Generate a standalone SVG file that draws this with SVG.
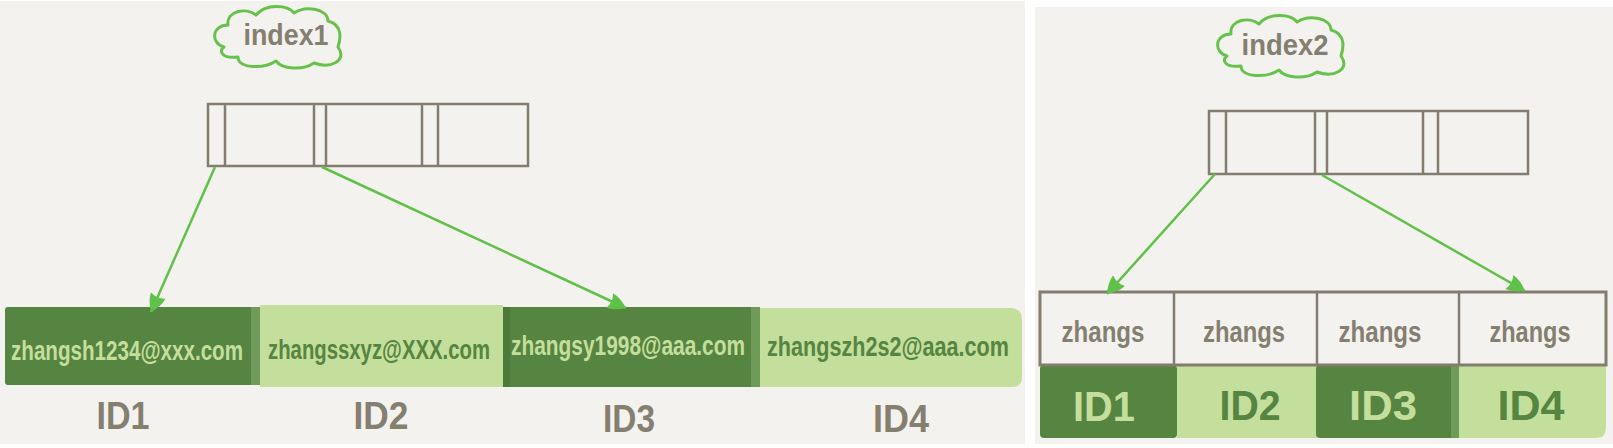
<svg xmlns="http://www.w3.org/2000/svg" width="1613" height="448" viewBox="0 0 1613 448">
<style>
.bg{fill:#f4f2ee}
.box{fill:none;stroke:#847d6f;stroke-width:2.5}
.cloud{fill:none;stroke:#66c24a;stroke-width:3;stroke-linejoin:round}
.conn{stroke:#5fc148;stroke-width:2.5;fill:none}
.dark{fill:#568441}
.light{fill:#c4df9b}
.t{font-family:"Liberation Sans",Arial,sans-serif;font-weight:700}
.gray{fill:#857f70}
.tl{fill:#c4df9b}
.td{fill:#568441}
</style>
<defs>
<path id="cloudShape" d="M 14 44 C 0 40, 2 22, 18 22 C 16 8, 36 4, 46 12 C 56 0, 78 2, 84 10 C 96 2, 118 6, 118 18 C 134 22, 130 38, 128 44 C 138 58, 120 66, 104 60 C 92 68, 72 66, 66 58 C 54 66, 28 66, 28 54 C 12 56, 8 48, 14 44 Z"/>
<marker id="ah" markerUnits="userSpaceOnUse" markerWidth="22" markerHeight="20" refX="18" refY="9" orient="auto">
<path d="M 0 1 Q 9 2 18 9 Q 9 16 0 17 Q 4 9 0 1 Z" fill="#5fc148"/>
</marker>
</defs>
<rect width="1613" height="448" fill="#ffffff"/>
<rect class="bg" x="0" y="1" width="1025" height="443"/>
<rect class="bg" x="1035" y="7" width="578" height="437"/>

<g id="index1">
<use href="#cloudShape" class="cloud" transform="translate(210,3)"/>
<text class="t gray" x="286" y="45" font-size="30" text-anchor="middle" textLength="85" lengthAdjust="spacingAndGlyphs">index1</text>
</g>
<g id="root1">
<rect class="box" x="208" y="104" width="320" height="62"/>
<line class="box" x1="225" y1="104" x2="225" y2="166"/>
<line class="box" x1="314" y1="104" x2="314" y2="166"/>
<line class="box" x1="326" y1="104" x2="326" y2="166"/>
<line class="box" x1="422" y1="104" x2="422" y2="166"/>
<line class="box" x1="438" y1="104" x2="438" y2="166"/>
</g>
<g id="leaf1">
<rect class="dark" x="5" y="307" width="255" height="78" rx="3"/>
<rect x="251" y="307" width="9" height="78" fill="#6f9a5a"/>
<text class="t tl" transform="translate(127,360) scale(1,1.35)" x="0" y="0" font-size="20" text-anchor="middle" textLength="232" lengthAdjust="spacingAndGlyphs">zhangsh1234@xxx.com</text>
<text class="t gray" x="123" y="429" font-size="38" text-anchor="middle" textLength="53" lengthAdjust="spacingAndGlyphs">ID1</text>
</g>
<g id="leaf2">
<rect class="light" x="260" y="305" width="243" height="82"/>
<text class="t td" transform="translate(379,359) scale(1,1.35)" x="0" y="0" font-size="20" text-anchor="middle" textLength="222" lengthAdjust="spacingAndGlyphs">zhangssxyz@XXX.com</text>
<text class="t gray" x="381" y="429" font-size="38" text-anchor="middle" textLength="55" lengthAdjust="spacingAndGlyphs">ID2</text>
</g>
<g id="leaf3">
<rect class="dark" x="503" y="307" width="257" height="80" rx="3"/>
<rect x="503" y="307" width="7" height="80" fill="#4c7a38"/>
<rect x="751" y="307" width="9" height="80" fill="#6f9a5a"/>
<text class="t tl" transform="translate(628,355) scale(1,1.35)" x="0" y="0" font-size="20" text-anchor="middle" textLength="234" lengthAdjust="spacingAndGlyphs">zhangsy1998@aaa.com</text>
<text class="t gray" x="629" y="432" font-size="38" text-anchor="middle" textLength="52" lengthAdjust="spacingAndGlyphs">ID3</text>
</g>
<g id="leaf4">
<path class="light" d="M 760 308 L 1010 308 Q 1022 308 1022 320 L 1022 377 Q 1022 387 1012 387 L 760 387 Z"/>
<text class="t td" transform="translate(888,356) scale(1,1.35)" x="0" y="0" font-size="20" text-anchor="middle" textLength="242" lengthAdjust="spacingAndGlyphs">zhangszh2s2@aaa.com</text>
<text class="t gray" x="901" y="432" font-size="38" text-anchor="middle" textLength="56" lengthAdjust="spacingAndGlyphs">ID4</text>
</g>

<g id="index2">
<use href="#cloudShape" class="cloud" transform="translate(1213,12)"/>
<text class="t gray" x="1285" y="55" font-size="30" text-anchor="middle" textLength="87" lengthAdjust="spacingAndGlyphs">index2</text>
</g>
<g id="root2">
<rect class="box" x="1209" y="111" width="319" height="63"/>
<line class="box" x1="1226" y1="111" x2="1226" y2="174"/>
<line class="box" x1="1315" y1="111" x2="1315" y2="174"/>
<line class="box" x1="1327" y1="111" x2="1327" y2="174"/>
<line class="box" x1="1423" y1="111" x2="1423" y2="174"/>
<line class="box" x1="1438" y1="111" x2="1438" y2="174"/>
</g>
<g id="row2">
<rect class="dark" x="1040" y="365" width="137" height="73" rx="4"/>
<rect class="light" x="1177" y="365" width="140" height="73"/>
<rect class="dark" x="1316" y="365" width="143" height="73" rx="4"/>
<rect x="1451" y="365" width="8" height="73" fill="#6f9a5a"/>
<path class="light" d="M 1459 365 L 1606 365 L 1606 428 Q 1606 438 1596 438 L 1459 438 Z"/>
<rect x="1040" y="292" width="566" height="73" fill="#f4f2ee" stroke="#847d6f" stroke-width="3"/>
<line class="box" x1="1174" y1="292" x2="1174" y2="365" stroke-width="3"/>
<line class="box" x1="1317" y1="292" x2="1317" y2="365" stroke-width="3"/>
<line class="box" x1="1459" y1="292" x2="1459" y2="365" stroke-width="3"/>
</g>
<g id="entry1">
<text class="t gray" x="1103" y="342" font-size="30" text-anchor="middle" textLength="83" lengthAdjust="spacingAndGlyphs">zhangs</text>
<text class="t tl" x="1104" y="421" font-size="42" text-anchor="middle" textLength="62" lengthAdjust="spacingAndGlyphs">ID1</text>
</g>
<g id="entry2">
<text class="t gray" x="1244" y="342" font-size="30" text-anchor="middle" textLength="82" lengthAdjust="spacingAndGlyphs">zhangs</text>
<text class="t td" x="1250" y="420" font-size="42" text-anchor="middle" textLength="61" lengthAdjust="spacingAndGlyphs">ID2</text>
</g>
<g id="entry3">
<text class="t gray" x="1380" y="342" font-size="30" text-anchor="middle" textLength="83" lengthAdjust="spacingAndGlyphs">zhangs</text>
<text class="t tl" x="1383" y="420" font-size="42" text-anchor="middle" textLength="68" lengthAdjust="spacingAndGlyphs">ID3</text>
</g>
<g id="entry4">
<text class="t gray" x="1530" y="342" font-size="30" text-anchor="middle" textLength="81" lengthAdjust="spacingAndGlyphs">zhangs</text>
<text class="t td" x="1531" y="420" font-size="42" text-anchor="middle" textLength="67" lengthAdjust="spacingAndGlyphs">ID4</text>
</g>

<g id="connectors">
<line class="conn" x1="215" y1="167" x2="151" y2="312" marker-end="url(#ah)"/>
<line class="conn" x1="322" y1="167" x2="626" y2="308" marker-end="url(#ah)"/>
<line class="conn" x1="1215" y1="174" x2="1107" y2="294" marker-end="url(#ah)"/>
<line class="conn" x1="1322" y1="175" x2="1525" y2="291" marker-end="url(#ah)"/>
</g>
</svg>
